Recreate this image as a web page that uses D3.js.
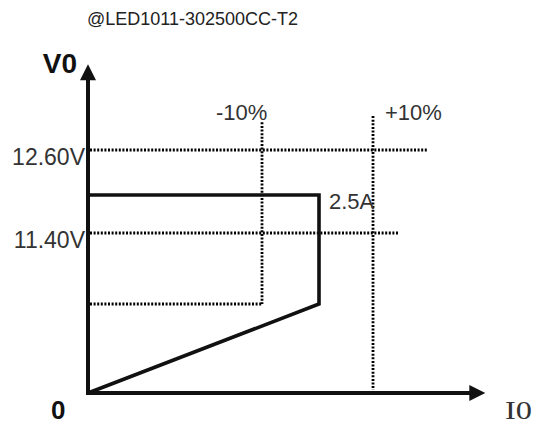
<!DOCTYPE html>
<html>
<head>
<meta charset="utf-8">
<script src="https://cdn.jsdelivr.net/npm/d3@7"></script>
<style>
  body { margin: 0; background: #fff; }
  svg { display: block; }
  text { font-family: "Liberation Sans", Arial, sans-serif; fill: #222; }
</style>
</head>
<body>
<svg id="chart" width="534" height="426"></svg>
<script>
// values (schematic V-I curve)
var title = "@LED1011-302500CC-T2";
var currentBreaks = [0, 2.25, 2.5, 2.75];      // A: origin, -10%, rated, +10%
var voltageBreaks = [0, 11.4, 12.6];           // V: origin, low limit, high limit
var axisMaxI = 3.27, axisMaxV = 13.84;

// output curve: constant voltage then constant current fold-back
var curveI = [0, 2.5, 2.5, 0];
var curveV = [11.95, 11.95, 6.34, 0];

// dotted guide lines
var limitV = [12.6, 11.4];
var limitVEnd = [3.0, 2.87];
var limitVLabels = ["12.60V", "11.40V"];
var limitI = [2.25, 2.75];
var limitITop = [13.0, 13.09];
var limitIBottom = [6.34, 0.21];
var limitILabels = ["-10%", "+10%"];
var ratedLabel = "2.5A";

var svg = d3.select("#chart");

var x = d3.scaleLinear().domain(currentBreaks).range([88, 262, 319, 373]);
var y = d3.scaleLinear().domain(voltageBreaks).range([393, 233, 150]);

// title
svg.append("text")
  .attr("x", 87).attr("y", 25)
  .style("font-size", "18px")
  .text(title);

// dotted guides
var dots = svg.append("g")
  .attr("stroke", "#000")
  .attr("stroke-width", 2.8)
  .attr("stroke-dasharray", "2,1.6")
  .attr("fill", "none");

dots.selectAll(".hguide")
  .data(limitV)
  .enter().append("line")
  .attr("class", "hguide")
  .attr("x1", x(0) + 2)
  .attr("x2", function(d, i) { return x(limitVEnd[i]); })
  .attr("y1", function(d) { return y(d); })
  .attr("y2", function(d) { return y(d); });

dots.selectAll(".vguide")
  .data(limitI)
  .enter().append("line")
  .attr("class", "vguide")
  .attr("x1", function(d) { return x(d); })
  .attr("x2", function(d) { return x(d); })
  .attr("y1", function(d, i) { return y(limitITop[i]); })
  .attr("y2", function(d, i) { return y(limitIBottom[i]); });

// lower guide from the axis to the -10% line
dots.append("line")
  .attr("x1", x(0) + 2).attr("x2", x(limitI[0]))
  .attr("y1", y(limitIBottom[0])).attr("y2", y(limitIBottom[0]));

// curve
var line = d3.line()
  .x(function(d) { return x(d[0]); })
  .y(function(d) { return y(d[1]); });

svg.append("path")
  .datum(d3.zip(curveI, curveV))
  .attr("d", line)
  .attr("fill", "none")
  .attr("stroke", "#111")
  .attr("stroke-width", 3.6)
  .attr("stroke-linejoin", "miter");

// axes with arrow heads
var axes = svg.append("g").attr("stroke", "#111").attr("stroke-width", 4);
axes.append("line")
  .attr("x1", x(0)).attr("y1", y(0) + 2)
  .attr("x2", x(0)).attr("y2", y(axisMaxV) + 12);
axes.append("line")
  .attr("x1", x(0) - 2).attr("y1", y(0))
  .attr("x2", x(axisMaxI) - 12).attr("y2", y(0));

var ax = x(0), ay = y(axisMaxV);
svg.append("path")
  .attr("d", "M" + ax + "," + ay + "L" + (ax + 8) + "," + (ay + 16) + "L" + (ax - 8) + "," + (ay + 16) + "Z")
  .attr("fill", "#111");
var bx = x(axisMaxI), by = y(0);
svg.append("path")
  .attr("d", "M" + bx + "," + by + "L" + (bx - 16) + "," + (by - 8) + "L" + (bx - 16) + "," + (by + 8) + "Z")
  .attr("fill", "#111");

// labels
svg.selectAll(".vlabel")
  .data(limitV)
  .enter().append("text")
  .attr("class", "vlabel")
  .attr("x", x(0) - 3)
  .attr("y", function(d) { return y(d) + 15; })
  .attr("text-anchor", "end")
  .style("font-size", "23px")
  .style("fill", "#333")
  .text(function(d, i) { return limitVLabels[i]; });

svg.selectAll(".ilabel")
  .data(limitI)
  .enter().append("text")
  .attr("class", "ilabel")
  .attr("x", function(d, i) { return i === 0 ? x(d) - 46 : x(d) + 12; })
  .attr("y", 120)
  .style("font-size", "22px")
  .style("fill", "#333")
  .text(function(d, i) { return limitILabels[i]; });

svg.append("text")
  .attr("x", x(2.5) + 10)
  .attr("y", y(curveV[0]) + 14)
  .style("font-size", "22px")
  .style("fill", "#333")
  .text(ratedLabel);

svg.append("text")
  .attr("x", 77).attr("y", 73)
  .attr("text-anchor", "end")
  .style("font-size", "28px")
  .style("font-weight", "bold")
  .style("fill", "#111")
  .text("V0");

svg.append("text")
  .attr("x", 51).attr("y", 419)
  .style("font-size", "26px")
  .style("font-weight", "bold")
  .style("fill", "#111")
  .text("0");

svg.append("text")
  .attr("x", 505).attr("y", 419)
  .attr("textLength", 27)
  .attr("lengthAdjust", "spacingAndGlyphs")
  .style("font-family", "'Liberation Serif', 'Times New Roman', serif")
  .style("font-size", "25px")
  .style("fill", "#333")
  .text("I0");
</script>
</body>
</html>
